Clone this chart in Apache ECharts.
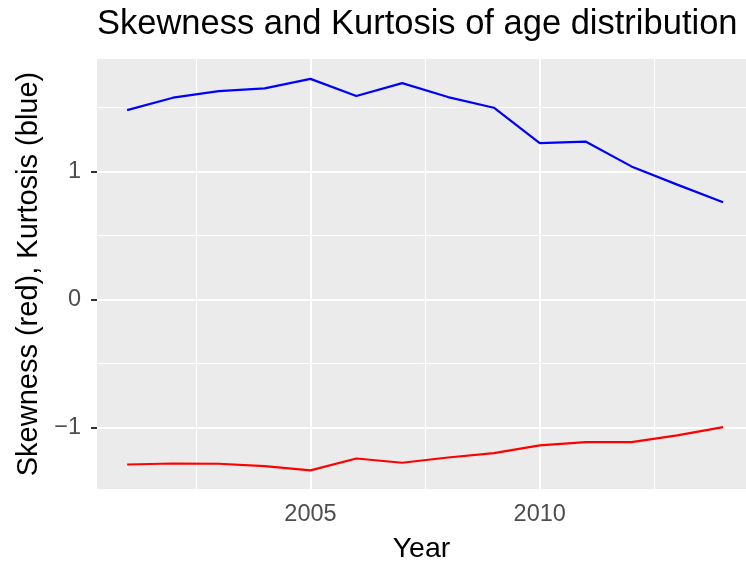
<!DOCTYPE html>
<html>
<head>
<meta charset="utf-8">
<script src="https://cdn.jsdelivr.net/npm/echarts@6/dist/echarts.min.js"></script>
<style>
  html, body { margin: 0; padding: 0; background: #fff; }
  #chart { width: 746px; height: 563px; }
</style>
</head>
<body>
<div id="chart"></div>
<script>
// data
var years = [2001, 2002, 2003, 2004, 2005, 2006, 2007, 2008, 2009, 2010, 2011, 2012, 2013, 2014];
var kurtosis = [1.478, 1.575, 1.627, 1.648, 1.722, 1.588, 1.689, 1.580, 1.497, 1.220, 1.233, 1.039, 0.897, 0.759];
var skewness = [-1.287, -1.279, -1.281, -1.299, -1.333, -1.240, -1.273, -1.232, -1.198, -1.138, -1.112, -1.112, -1.060, -0.995];

var xTicks = [2005, 2010];
var xMinor = [2002.5, 2007.5, 2012.5];
var yTicks = [-1, 0, 1];
var yMinor = [-0.5, 0.5, 1.5];

var FONT = 'Liberation Sans, Arial, sans-serif';

function pairs(xs, ys) {
  return xs.map(function (x, i) { return [x, ys[i]]; });
}

function gridLines() {
  var out = [];
  xMinor.forEach(function (v) { out.push({ xAxis: v, lineStyle: { width: 1 } }); });
  yMinor.forEach(function (v) { out.push({ yAxis: v, lineStyle: { width: 1 } }); });
  xTicks.forEach(function (v) { out.push({ xAxis: v, lineStyle: { width: 2 } }); });
  yTicks.forEach(function (v) { out.push({ yAxis: v, lineStyle: { width: 2 } }); });
  return out;
}

var chart = echarts.init(document.getElementById('chart'));
var option = {
  animation: false,
  backgroundColor: '#fff',
  title: {
    text: 'Skewness and Kurtosis of age distribution',
    left: 92,
    top: 2,
    textStyle: { fontFamily: FONT, fontSize: 34.5, fontWeight: 'normal', color: '#000' }
  },
  grid: {
    left: 97, right: 0, top: 59, bottom: 74,
    outerBoundsMode: 'none',
    containLabel: false,
    show: true, backgroundColor: '#EBEBEB', borderWidth: 0
  },
  xAxis: {
    type: 'value',
    min: 2000.343,
    max: 2014.5,
    name: 'Year',
    nameLocation: 'middle',
    nameGap: 46,
    nameTextStyle: { fontFamily: FONT, fontSize: 28.5, color: '#000' },
    axisLine: { show: true, lineStyle: { color: 'rgba(0,0,0,0)' } },
    axisTick: { show: true, inside: false, length: 6, customValues: xTicks, lineStyle: { color: '#333333', width: 2, opacity: 1 } },
    axisLabel: {
      customValues: xTicks, margin: 14,
      fontFamily: FONT, fontSize: 23.5, color: '#4D4D4D',
      formatter: function (v) { return String(v); }
    },
    splitLine: { show: false }
  },
  yAxis: {
    type: 'value',
    min: -1.478,
    max: 1.877,
    name: 'Skewness (red), Kurtosis (blue)',
    nameLocation: 'middle',
    nameGap: 50,
    nameTextStyle: { fontFamily: FONT, fontSize: 29, color: '#000' },
    axisLine: { show: true, lineStyle: { color: 'rgba(0,0,0,0)' } },
    axisTick: { show: true, inside: false, length: 6, customValues: yTicks, lineStyle: { color: '#333333', width: 2, opacity: 1 } },
    axisLabel: {
      customValues: yTicks, margin: 16,
      fontFamily: FONT, fontSize: 23.5, color: '#4D4D4D',
      formatter: function (v) { return String(v).replace('-', '\u2212'); }
    },
    splitLine: { show: false }
  },
  series: [
    {
      name: 'grid',
      type: 'line',
      data: [],
      silent: true,
      z: 1,
      markLine: {
        silent: true,
        symbol: 'none',
        z: 1,
        label: { show: false },
        lineStyle: { color: '#fff', type: 'solid' },
        data: gridLines()
      }
    },
    {
      name: 'Kurtosis',
      type: 'line',
      z: 3,
      data: pairs(years, kurtosis),
      showSymbol: false,
      lineStyle: { color: '#0000FF', width: 2.2 }
    },
    {
      name: 'Skewness',
      type: 'line',
      z: 3,
      data: pairs(years, skewness),
      showSymbol: false,
      lineStyle: { color: '#FF0000', width: 2.2 }
    }
  ]
};
chart.setOption(option);
window.addEventListener('resize', function () {
  chart.resize();
});
</script>
</body>
</html>
